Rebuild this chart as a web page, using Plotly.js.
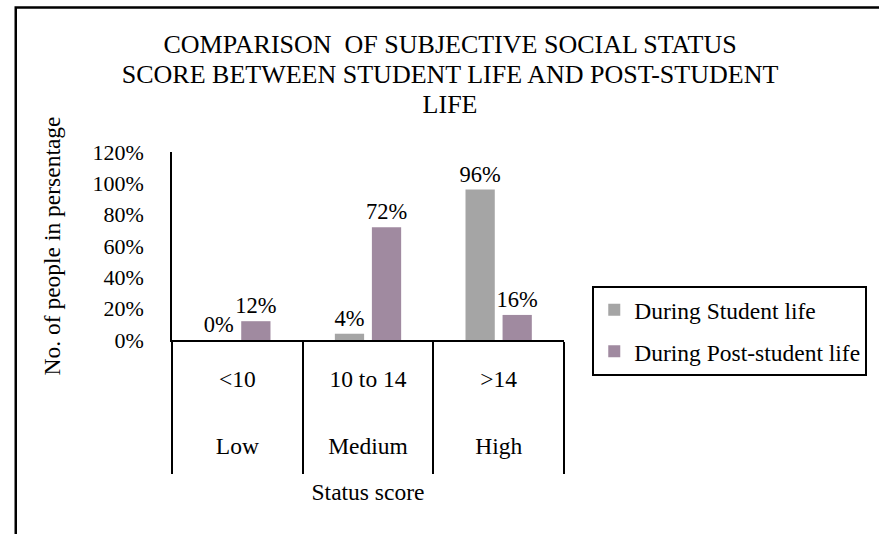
<!DOCTYPE html>
<html><head><meta charset="utf-8">
<script src="https://cdn.plot.ly/plotly-3.0.1.min.js"></script>
<style>
html,body{margin:0;padding:0;background:#fff;}
#chart{width:879px;height:534px;}
</style>
</head><body>
<div id="chart"></div>
<script>
// ---- data ----
const scoreRanges = ['<10', '10 to 14', '>14'];
const statusLevels = ['Low', 'Medium', 'High'];
const seriesNames = ['During Student life', 'During Post-student life'];
const studentLife = [0, 0.04, 0.96];
const postStudentLife = [0.12, 0.72, 0.16];
const yTickVals = [0, 0.2, 0.4, 0.6, 0.8, 1.0, 1.2];
const titleLines = ['COMPARISON\u00a0 OF SUBJECTIVE SOCIAL STATUS', 'SCORE BETWEEN STUDENT LIFE AND POST-STUDENT', 'LIFE'];
const xTitle = 'Status score';
const yTitle = 'No. of people in persentage';

// ---- styles ----
const FONT = 'Times New Roman';
const colors = ['#A5A5A5', '#A08AA0'];
const esc = s => s.replace(/&/g, '&amp;').replace(/</g, '&lt;').replace(/>/g, '&gt;');
const sized = (s, px) => '<span style="font-size:' + px + 'px">' + s + '</span>';

const tickText = scoreRanges.map((r, i) => sized(esc(r), 23.5) + '<br>' + sized(statusLevels[i], 23.5));

const traces = [studentLife, postStudentLife].map((vals, k) => ({
  type: 'bar',
  name: seriesNames[k],
  legendgroup: 'g' + k,
  x: statusLevels,
  y: vals,
  marker: {color: colors[k]},
  texttemplate: '%{y:.0%}',
  textposition: 'outside',
  constraintext: 'none',
  cliponaxis: false,
  textfont: {family: FONT, size: 22.5, color: '#000'}
}));

const layout = {
  width: 879, height: 534,
  margin: {l: 172, r: 305, t: 152, b: 194, pad: 0},
  paper_bgcolor: '#fff', plot_bgcolor: '#fff',
  font: {family: FONT, size: 22, color: '#000'},
  barmode: 'group',
  bargap: 0.433,
  bargroupgap: 0.21,
  title: {
    text: titleLines.map(t => sized(t, 26)).join('<br>'),
    font: {family: FONT, size: 23, color: '#000'},
    x: 0.512, xanchor: 'center', xref: 'container',
    y: 0.9007, yanchor: 'top', yref: 'container'
  },
  xaxis: {
    type: 'category',
    tickmode: 'array',
    tickvals: statusLevels,
    ticktext: tickText,
    tickson: 'boundaries',
    ticks: 'outside', ticklen: 132, tickwidth: 2, tickcolor: '#000',
    tickfont: {family: FONT, size: 51.5, color: '#000'},
    ticklabelstandoff: -17,
    showline: true, linecolor: '#000', linewidth: 1.5,
    showgrid: false, zeroline: false,
    title: {text: xTitle, font: {family: FONT, size: 23.5, color: '#000'}, standoff: 26}
  },
  yaxis: {
    range: [0, 1.2],
    tickmode: 'array',
    tickvals: yTickVals,
    tickformat: '.0%',
    ticks: '',
    tickfont: {family: FONT, size: 22, color: '#000'},
    ticklabelstandoff: 22,
    showline: true, linecolor: '#000', linewidth: 1.5,
    showgrid: false, zeroline: false,
    title: {text: yTitle, font: {family: FONT, size: 23.5, color: '#000'}, standoff: 25}
  },
  showlegend: true,
  legend: {
    x: 1.0721, y: 0.2872, xanchor: 'left', yanchor: 'top',
    bgcolor: '#fff', bordercolor: '#000', borderwidth: 2,
    font: {family: FONT, size: 23.5, color: '#000'},
    traceorder: 'grouped', tracegroupgap: 8
  },
  shapes: [{
    type: 'rect', xref: 'paper', yref: 'paper',
    x0: -0.3986, x1: 1.81, y0: -1.17, y1: 1.7686,
    line: {color: '#000', width: 2.5}, fillcolor: 'rgba(0,0,0,0)', layer: 'above'
  }]
};

Plotly.newPlot('chart', traces, layout, {displayModeBar: false});
</script>
</body></html>
